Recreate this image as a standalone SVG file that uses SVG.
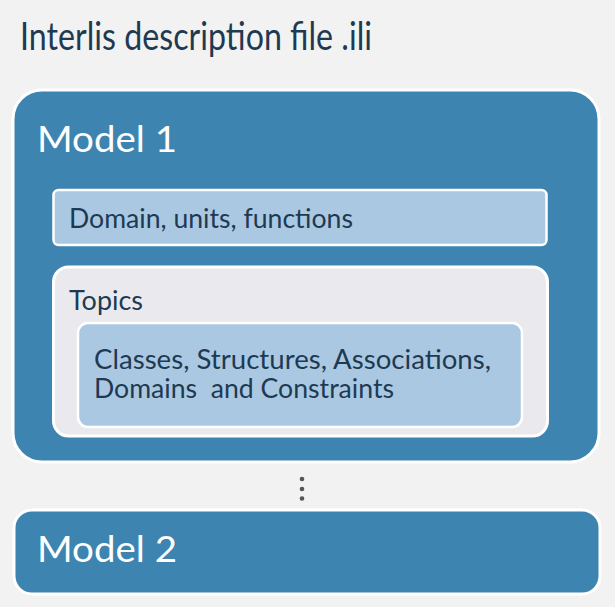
<svg xmlns="http://www.w3.org/2000/svg" width="615" height="607" viewBox="0 0 615 607">
<style>
.t{font-family:Lato,"Open Sans","Liberation Sans",sans-serif;white-space:pre}
.dark{fill:#1d3a52}
.white{fill:#ffffff}
.model{fill:#3d85b0;stroke:#ffffff;stroke-width:3}
.light{fill:#abc8e2;stroke:#ffffff;stroke-width:2.5}
.gray{fill:#eaeaee;stroke:#ffffff;stroke-width:3}
</style>
<rect x="0" y="0" width="615" height="607" fill="#f2f2f2"/>
<text class="t dark" x="20" y="50" font-size="38" textLength="352" lengthAdjust="spacingAndGlyphs">Interlis description file .ili</text>
<g id="model1">
<rect class="model" x="13" y="90" width="586" height="372" rx="29"/>
<text class="t white" x="37" y="152" font-size="37" textLength="140" lengthAdjust="spacingAndGlyphs">Model 1</text>
</g>
<g id="domain">
<rect class="light" x="53.5" y="190" width="493" height="55" rx="5"/>
<text class="t dark" x="69" y="228" font-size="26" textLength="284" lengthAdjust="spacingAndGlyphs">Domain, units, functions</text>
</g>
<g id="topics">
<rect class="gray" x="53.5" y="267" width="494" height="169" rx="15"/>
<text class="t dark" x="69" y="310" font-size="26" textLength="74" lengthAdjust="spacingAndGlyphs">Topics</text>
</g>
<g id="classes">
<rect class="light" x="78" y="323" width="444" height="104" rx="10"/>
<text class="t dark" x="94" y="369" font-size="26" textLength="397" lengthAdjust="spacingAndGlyphs">Classes, Structures, Associations,</text>
<text class="t dark" x="94" y="398" font-size="26" textLength="300" lengthAdjust="spacingAndGlyphs">Domains  and Constraints</text>
</g>
<g id="connectors">
<circle cx="302" cy="479" r="2.3" fill="#555555"/>
<circle cx="302" cy="489" r="2.3" fill="#555555"/>
<circle cx="302" cy="498.5" r="2.3" fill="#555555"/>
</g>
<g id="model2">
<rect class="model" x="14" y="510" width="586" height="84" rx="18"/>
<text class="t white" x="37" y="562" font-size="37" textLength="140" lengthAdjust="spacingAndGlyphs">Model 2</text>
</g>
</svg>
